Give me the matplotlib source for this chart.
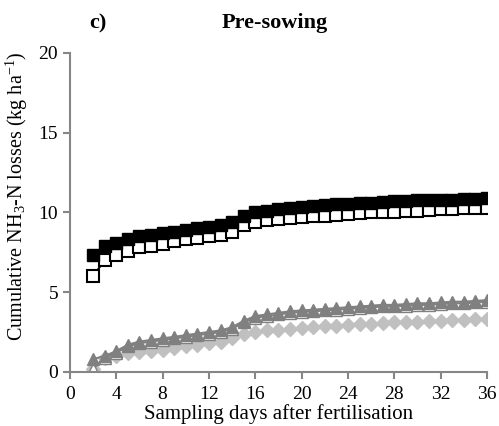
import numpy as np
import matplotlib
matplotlib.use("Agg")
import matplotlib.pyplot as plt

plt.rcParams["font.family"] = ["Liberation Serif", "DejaVu Serif"]
plt.rcParams["mathtext.fontset"] = "custom"
plt.rcParams["mathtext.rm"] = "Liberation Serif"
plt.rcParams["mathtext.it"] = "Liberation Serif:italic"

# sampling days after fertilisation
days = np.arange(2, 37)

# cumulative NH3-N losses (kg ha-1)
filled_sq = [7.3, 7.9, 8.1, 8.3, 8.5, 8.6, 8.7, 8.8, 8.9, 9.0, 9.1, 9.2, 9.4, 9.8, 10.0,
             10.1, 10.2, 10.3, 10.35, 10.4, 10.45, 10.5, 10.55, 10.6, 10.6, 10.65, 10.7,
             10.7, 10.75, 10.75, 10.8, 10.8, 10.85, 10.85, 10.9]
open_sq = [6.0, 7.0, 7.3, 7.6, 7.8, 7.9, 8.0, 8.2, 8.3, 8.4, 8.5, 8.6, 8.8, 9.2, 9.4,
           9.5, 9.6, 9.65, 9.7, 9.75, 9.8, 9.85, 9.9, 9.95, 10.0, 10.0, 10.05, 10.1,
           10.1, 10.15, 10.2, 10.2, 10.25, 10.25, 10.3]
tri_a = [0.8, 1.0, 1.3, 1.7, 1.9, 2.0, 2.1, 2.2, 2.3, 2.4, 2.5, 2.6, 2.8, 3.2, 3.5,
         3.6, 3.7, 3.8, 3.85, 3.9, 3.95, 4.0, 4.05, 4.1, 4.15, 4.2, 4.2, 4.25, 4.3,
         4.3, 4.35, 4.4, 4.4, 4.45, 4.5]
tri_b = [0.2, 0.9, 1.2, 1.6, 1.8, 1.9, 2.0, 2.1, 2.2, 2.3, 2.4, 2.5, 2.7, 3.1, 3.4,
         3.5, 3.6, 3.7, 3.75, 3.8, 3.85, 3.9, 3.95, 4.0, 4.05, 4.1, 4.1, 4.15, 4.2,
         4.2, 4.25, 4.3, 4.3, 4.35, 4.4]
diam = [0.2, 0.9, 1.0, 1.2, 1.25, 1.3, 1.4, 1.5, 1.6, 1.7, 1.8, 1.9, 2.1, 2.35, 2.5,
        2.6, 2.65, 2.7, 2.75, 2.8, 2.85, 2.9, 2.95, 3.0, 3.0, 3.05, 3.1, 3.1, 3.15,
        3.2, 3.2, 3.25, 3.25, 3.3, 3.3]

xticks = list(range(0, 37, 4))
yticks = [0, 5, 10, 15, 20]

fig = plt.figure(figsize=(4.99, 4.26), dpi=100)
ax = fig.add_axes([0.140, 0.127, 0.836, 0.749])

ax.plot(days, diam, color="#c0c0c0", marker="D", ms=7.5, lw=1.5, mec="#c0c0c0")
ax.plot(days, tri_b, color="#808080", marker="^", ms=9, lw=1.5, mfc="white", mec="#808080")
ax.plot(days, tri_a, color="#808080", marker="^", ms=9, lw=1.5, mec="#808080")
ax.plot(days, open_sq, color="black", marker="s", ms=8.5, lw=1.5, mfc="white", mec="black", mew=1.5)
ax.plot(days, filled_sq, color="black", marker="s", ms=9, lw=1.5)

ax.set_xlim(0, 36); ax.set_ylim(0, 20)
ax.set_xticks(xticks); ax.set_yticks(yticks)
for s in ("top", "right"):
    ax.spines[s].set_visible(False)
for s in ("left", "bottom"):
    ax.spines[s].set_color("#868686"); ax.spines[s].set_linewidth(1.5)
ax.tick_params(colors="#868686", labelcolor="black", labelsize=14, length=5, width=1.5)
ax.tick_params(axis="x", pad=5)
ax.set_xlabel("Sampling days after fertilisation", fontsize=15, labelpad=1)
ax.set_ylabel("Cumulative NH$_3$-N losses (kg ha$^{-1}$)", fontsize=14.5)
ax.yaxis.set_label_coords(-0.095, 0.55)

fig.text(0.196, 0.945, "c)", fontsize=16, fontweight="bold", ha="center", va="center")
fig.text(0.551, 0.945, "Pre-sowing", fontsize=16, fontweight="bold", ha="center", va="center")

fig.savefig("out.png", dpi=100)
